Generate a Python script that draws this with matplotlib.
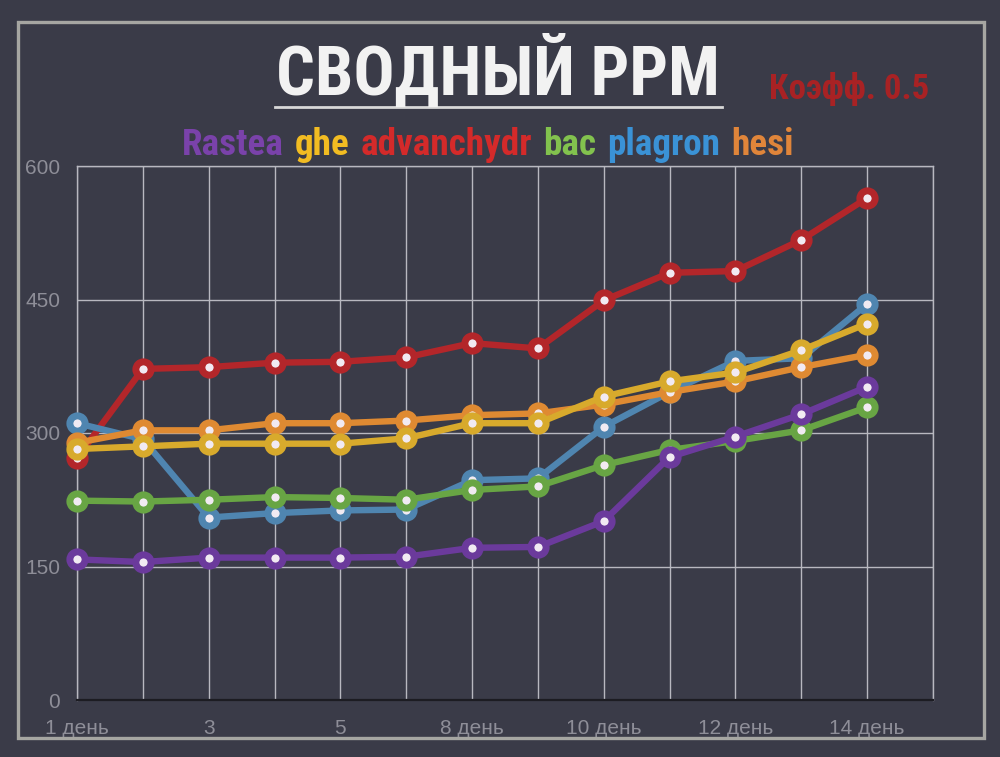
import matplotlib
matplotlib.use("Agg")
import matplotlib.pyplot as plt
from matplotlib import font_manager
from matplotlib.font_manager import FontProperties
from matplotlib.patches import Rectangle
from matplotlib.lines import Line2D
from matplotlib.offsetbox import TextArea, HPacker, AnchoredOffsetbox

# ---------------- data ----------------
categories = ['1 день', '2', '3', '4', '5', '7', '8 день', '9',
              '10 день', '11', '12 день', '13', '14 день']
shown_labels = ['1 день', '3', '5', '8 день', '10 день', '12 день', '14 день']

series_names = ['Rastea', 'ghe', 'advanchydr', 'bac', 'plagron', 'hesi']

rastea     = [158, 155, 160, 160, 160, 161, 171, 172, 201, 273, 296, 321, 352]
ghe        = [282, 285, 288, 288, 288, 294, 311, 311, 341, 358, 368, 393, 423]
advanchydr = [272, 372, 374, 379, 380, 385, 401, 395, 449, 480, 482, 517, 564]
bac        = [224, 223, 225, 228, 227, 225, 236, 240, 264, 281, 291, 303, 329]
plagron    = [311, 293, 205, 210, 213, 214, 247, 249, 307, 346, 381, 384, 445]
hesi       = [289, 303, 303, 311, 311, 314, 320, 322, 332, 346, 358, 374, 388]

y_ticks = [0, 150, 300, 450, 600]

title_text = 'СВОДНЫЙ PPM'
coef_text = 'Коэфф. 0.5'

# ---------------- style ----------------
BG = '#3a3b48'
GRID = '#b8b8c0'
TICK = '#8e8e98'
line_colors = {
    'Rastea': '#6b3a9c',
    'ghe': '#d8aa2c',
    'advanchydr': '#b3262a',
    'bac': '#68a544',
    'plagron': '#4f85b0',
    'hesi': '#df8a32',
}
legend_colors = {
    'Rastea': '#7a42aa',
    'ghe': '#f2bc22',
    'advanchydr': '#d42a2a',
    'bac': '#82c24e',
    'plagron': '#3a92d6',
    'hesi': '#e0853a',
}
zorders = {'advanchydr': 3, 'plagron': 4, 'hesi': 5, 'bac': 6, 'ghe': 7, 'Rastea': 8}


def pick_narrow_bold():
    prefs = ['LiberationSansNarrow-Bold', 'NotoSans-ExtraCondensedBold',
             'RobotoCondensed-Bold', 'OpenSans-CondensedBold',
             'NotoSans-CondensedBold', 'DejaVuSansCondensed-Bold']
    files = [f.fname for f in font_manager.fontManager.ttflist]
    for p in prefs:
        for fn in files:
            base = fn.replace('\\', '/').split('/')[-1].rsplit('.', 1)[0]
            if base.lower() == p.lower():
                return FontProperties(fname=fn)
    return FontProperties(family='DejaVu Sans', weight='bold', stretch='condensed')


NARROW_FP = pick_narrow_bold()

W, H = 1000, 757
fig = plt.figure(figsize=(W / 100, H / 100), dpi=100)
fig.patch.set_facecolor(BG)

# outer frame
fig.add_artist(Rectangle((18 / W, 1 - 738 / H), (984 - 18) / W, (738 - 22) / H,
                         transform=fig.transFigure, fill=False,
                         edgecolor='#a6a6a2', linewidth=2.4))

ax = fig.add_axes([77 / W, 1 - 700 / H, (933 - 77) / W, (700 - 166) / H])
ax.set_facecolor(BG)
ax.patch.set_alpha(0)
ax.set_xlim(0, len(categories))
ax.set_ylim(0, 600)

xt = list(range(len(categories) + 1))
ax.set_xticks(xt)
xl = []
for i in xt:
    if i < len(categories) and categories[i] in shown_labels:
        xl.append(categories[i])
    else:
        xl.append('')
ax.set_xticklabels(xl)
ax.set_yticks(y_ticks)
ax.set_yticklabels([str(v) for v in y_ticks])
ax.grid(True, color=GRID, linewidth=1.0)
ax.set_axisbelow(True)
for s in ['top', 'right', 'left']:
    ax.spines[s].set_color(GRID)
    ax.spines[s].set_linewidth(1.0)
ax.spines['bottom'].set_color('#1c1c22')
ax.spines['bottom'].set_linewidth(1.6)
ax.tick_params(axis='both', length=0, colors=TICK, labelsize=15)
ax.tick_params(axis='y', pad=12)
ax.tick_params(axis='x', pad=14)
for lab in ax.get_xticklabels() + ax.get_yticklabels():
    lab.set_fontfamily('Liberation Sans')

data = {'Rastea': rastea, 'ghe': ghe, 'advanchydr': advanchydr,
        'bac': bac, 'plagron': plagron, 'hesi': hesi}
x = list(range(len(categories)))
for name in series_names:
    c = line_colors[name]
    ax.plot(x, data[name], color=c, linewidth=4.6, marker='o', markersize=11,
            markeredgewidth=5, markeredgecolor=c, markerfacecolor='#f1eaf2',
            zorder=zorders[name], clip_on=False, solid_capstyle='round')

renderer = fig.canvas.get_renderer()


def fit_text(t, target_w):
    bb = t.get_window_extent(renderer)
    t.set_fontsize(t.get_fontsize() * target_w / bb.width)


# title
title = fig.text(498 / W, 1 - 72 / H, title_text, color='#f2f2f2', fontsize=40,
                 fontproperties=NARROW_FP, ha='center', va='center')
title.set_fontsize(40)
fit_text(title, 443)
fig.add_artist(Line2D([275 / W, 722 / W], [1 - 107 / H, 1 - 107 / H],
                      transform=fig.transFigure, color='#d8d8d8', linewidth=2))

coef = fig.text(849 / W, 1 - 89 / H, coef_text, color='#a82224',
                fontproperties=NARROW_FP, ha='center', va='center')
coef.set_fontsize(20)
fit_text(coef, 160)


# coloured legend words
def make_legend(size):
    areas = [TextArea(n, textprops=dict(color=legend_colors[n], fontsize=size,
                                        fontproperties=NARROW_FP))
             for n in series_names]
    for a in areas:
        a._text.set_fontsize(size)
    pack = HPacker(children=areas, align='baseline', pad=0, sep=size * 0.3)
    return AnchoredOffsetbox(loc='center', child=pack, frameon=False,
                             bbox_to_anchor=(488 / W, 1 - 145 / H),
                             bbox_transform=fig.transFigure, borderpad=0)


leg = make_legend(22)
fig.add_artist(leg)
w = leg.get_window_extent(renderer).width
leg.remove()
leg = make_legend(22 * 623 / w)
fig.add_artist(leg)

fig.savefig('out.png', dpi=100, facecolor=BG)
